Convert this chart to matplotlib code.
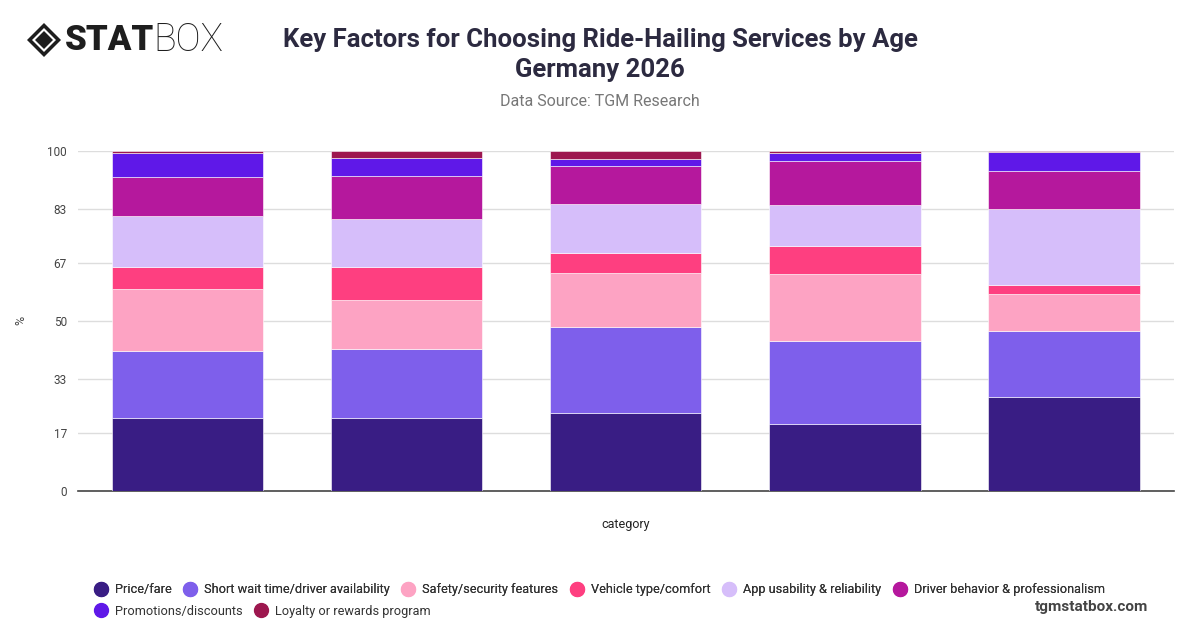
import matplotlib.pyplot as plt
from matplotlib.lines import Line2D
from matplotlib.patches import Polygon

plt.rcParams['font.family'] = ['Roboto', 'DejaVu Sans']

# groups (no tick labels shown in the reference)
groups = ["18-24", "25-34", "35-44", "45-54", "55+"]

factors = [
    "Price/fare",
    "Short wait time/driver availability",
    "Safety/security features",
    "Vehicle type/comfort",
    "App usability & reliability",
    "Driver behavior & professionalism",
    "Promotions/discounts",
    "Loyalty or rewards program",
]

price = [21.6, 21.6, 23.0, 19.6, 27.7]
wait_time = [19.7, 20.0, 25.3, 24.4, 19.2]
safety = [18.1, 14.4, 15.7, 19.8, 11.1]
vehicle = [6.5, 9.9, 6.0, 8.2, 2.6]
app = [14.8, 14.1, 14.3, 12.0, 22.4]
driver = [11.6, 12.7, 11.1, 13.1, 11.1]
promotions = [6.9, 5.2, 2.3, 2.2, 5.5]
loyalty = [0.8, 2.1, 2.3, 0.7, 0.4]

series = [price, wait_time, safety, vehicle, app, driver, promotions, loyalty]
colors = ["#391d84", "#7e5feb", "#fda3c3", "#fe3f80",
          "#d6befa", "#b5189d", "#5f18e8", "#9d174f"]

yticks = [0, 17, 33, 50, 67, 83, 100]

fig = plt.figure(figsize=(12, 6.28), dpi=100)
ax = fig.add_axes([0.065, 0.218, 0.913, 0.542])

x = list(range(len(groups)))
bottom = [0.0] * len(groups)
for vals, col, name in zip(series, colors, factors):
    ax.bar(x, vals, bottom=bottom, width=0.69, color=col,
           edgecolor="white", linewidth=0.4, label=name, zorder=3)
    bottom = [b + v for b, v in zip(bottom, vals)]

ax.set_xlim(-0.5, 4.5)
ax.set_ylim(0, 100)
ax.set_yticks(yticks)
ax.set_yticklabels([str(t) for t in yticks], fontsize=8.5, color="#444444")
ax.set_xticks([])
ax.tick_params(axis="y", length=0, pad=8)
ax.grid(axis="y", color="#dddddd", linewidth=1, zorder=0)
for side in ["top", "right", "left"]:
    ax.spines[side].set_visible(False)
ax.spines["bottom"].set_color("#444444")
ax.spines["bottom"].set_linewidth(1.2)
ax.set_xlabel("category", fontsize=9, color="#222222")
ax.xaxis.set_label_coords(0.5, -0.08)
ax.set_ylabel("%", fontsize=9, color="#444444")
ax.yaxis.set_label_coords(-0.046, 0.5)

# titles
fig.text(0.5, 0.936, "Key Factors for Choosing Ride-Hailing Services by Age",
         ha="center", va="center", fontsize=18.5, fontweight="bold", color="#2c2a40")
fig.text(0.5, 0.888, "Germany 2026", ha="center", va="center",
         fontsize=18.5, fontweight="bold", color="#2c2a40")
fig.text(0.5, 0.838, "Data Source: TGM Research", ha="center", va="center",
         fontsize=11.5, color="#777777")

# logo
cx, cy, r = 44 / 1200, 1 - 40 / 628, 17
def diamond(rad):
    return [(cx - rad / 1200, cy), (cx, cy + rad / 628),
            (cx + rad / 1200, cy), (cx, cy - rad / 628)]
fig.patches.append(Polygon(diamond(r), closed=True, transform=fig.transFigure,
                           facecolor="#1e1e1e", edgecolor="none"))
fig.patches.append(Polygon(diamond(12), closed=True, transform=fig.transFigure,
                           facecolor="white", edgecolor="none"))
fig.patches.append(Polygon(diamond(9), closed=True, transform=fig.transFigure,
                           facecolor="#1e1e1e", edgecolor="none"))
fig.text(65 / 1200, cy, "STAT", ha="left", va="center", fontsize=25,
         fontweight="black", color="#1e1e1e")
fig.text(153 / 1200, cy, "BOX", ha="left", va="center", fontsize=27,
         fontweight="light", color="#1e1e1e")

# legend, two rows
handles = [Line2D([0], [0], marker="o", linestyle="", markersize=10,
                  markerfacecolor=c, markeredgecolor=c) for c in colors]
leg1 = fig.legend(handles[:6], factors[:6], loc="center left",
                  bbox_to_anchor=(0.068, 1 - 590 / 628), ncol=6, frameon=False,
                  fontsize=9.2, handletextpad=0.5, columnspacing=0.85,
                  handlelength=1.2, labelcolor="#333333")
leg2 = fig.legend(handles[6:], factors[6:], loc="center left",
                  bbox_to_anchor=(0.068, 1 - 611 / 628), ncol=2, frameon=False,
                  fontsize=9.2, handletextpad=0.5, columnspacing=0.85,
                  handlelength=1.2, labelcolor="#333333")
fig.add_artist(leg1)

fig.text(1148 / 1200, 1 - 607 / 628, "tgmstatbox.com", ha="right", va="center",
         fontsize=11, fontweight="bold", color="#444444")

fig.savefig("out.png", dpi=100)
